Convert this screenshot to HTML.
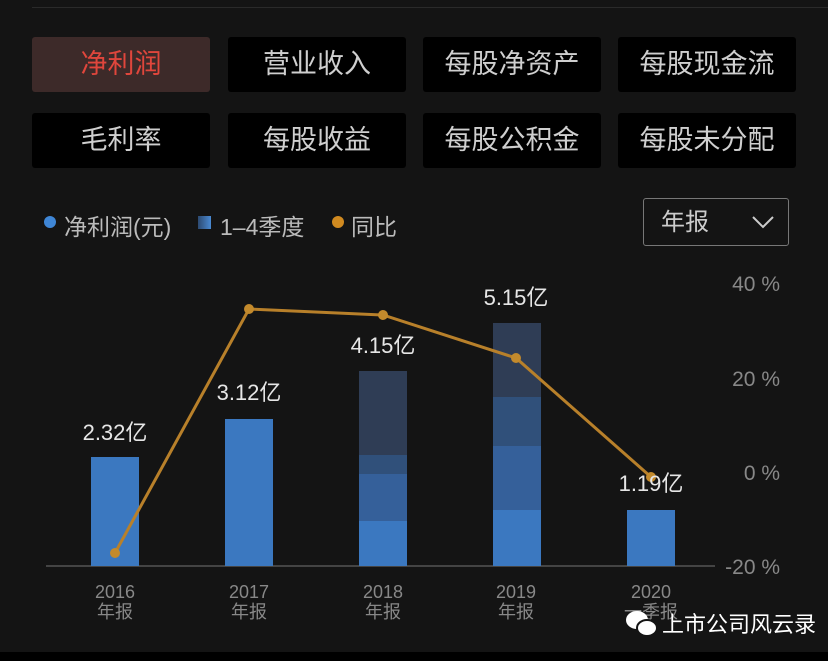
<!DOCTYPE html><html><head><meta charset="utf-8"><style>
body{margin:0;width:828px;height:661px;background:#141414;overflow:hidden;font-family:"Liberation Sans","Noto Sans CJK SC",sans-serif;position:relative}
.b{position:absolute;width:178px;height:55px;background:#000;color:#cfcfcf;font-size:27px;text-align:center;line-height:55px;border-radius:3px}
.a{background:#3d2a29;color:#e0463c}
.t{position:absolute;color:#e6e6e6;font-size:22px}
</style></head><body>
<div style="position:absolute;left:32px;top:7px;width:796px;height:1px;background:#2a2a2a"></div>
<div class="b a" style="left:32px;top:37px">净利润</div>
<div class="b" style="left:228px;top:37px">营业收入</div>
<div class="b" style="left:423px;top:37px">每股净资产</div>
<div class="b" style="left:618px;top:37px">每股现金流</div>
<div class="b" style="left:32px;top:113px">毛利率</div>
<div class="b" style="left:228px;top:113px">每股收益</div>
<div class="b" style="left:423px;top:113px">每股公积金</div>
<div class="b" style="left:618px;top:113px">每股未分配</div>
<div style="position:absolute;left:44px;top:216px;width:12px;height:12px;border-radius:50%;background:#3f86d6"></div>
<div class="t" style="left:64px;top:208px;color:#bbb;font-size:23px">净利润(元)</div>
<div style="position:absolute;left:198px;top:216px;width:13px;height:13px;background:linear-gradient(90deg,#2d4a70,#4a8ad4)"></div>
<div class="t" style="left:220px;top:208px;color:#bbb;font-size:23px">1–4季度</div>
<div style="position:absolute;left:332px;top:216px;width:12px;height:12px;border-radius:50%;background:#d08a20"></div>
<div class="t" style="left:351px;top:208px;color:#bbb;font-size:23px">同比</div>
<div style="position:absolute;left:643px;top:198px;width:146px;height:48px;border:1px solid #777;border-radius:3px;color:#ccc;font-size:24px;line-height:48px;box-sizing:border-box;padding-left:17px">年报</div>
<svg style="position:absolute;left:0;top:0" width="828" height="661">
<polyline points="753,217 763,227 773,217" fill="none" stroke="#ccc" stroke-width="2"/>
<line x1="46" y1="566" x2="715" y2="566" stroke="#555" stroke-width="1.5"/>
<g fill="#3b78c0">
<rect x="91" y="457" width="48" height="109"/>
<rect x="225" y="419" width="48" height="147"/>
<rect x="627" y="510" width="48" height="56"/>
</g>
<rect x="359" y="371" width="48" height="84" fill="#2f3d55"/>
<rect x="359" y="455" width="48" height="19" fill="#30507a"/>
<rect x="359" y="474" width="48" height="47" fill="#35609a"/>
<rect x="359" y="521" width="48" height="45" fill="#3b78c0"/>
<rect x="493" y="323" width="48" height="74" fill="#2f3d55"/>
<rect x="493" y="397" width="48" height="49" fill="#30507a"/>
<rect x="493" y="446" width="48" height="64" fill="#35609a"/>
<rect x="493" y="510" width="48" height="56" fill="#3b78c0"/>
<polyline points="115,553 249,309 383,315 516,358 651,477" fill="none" stroke="#b8802a" stroke-width="3"/>
<g fill="#c38a2c"><circle cx="115" cy="553" r="5"/><circle cx="249" cy="309" r="5"/><circle cx="383" cy="315" r="5"/><circle cx="516" cy="358" r="5"/><circle cx="651" cy="477" r="5"/></g>
<g fill="#e6e6e6" font-size="22" text-anchor="middle" font-family="Liberation Sans,Noto Sans CJK SC,sans-serif">
<text x="115" y="440">2.32亿</text><text x="249" y="400">3.12亿</text><text x="383" y="353">4.15亿</text><text x="516" y="305">5.15亿</text><text x="651" y="491">1.19亿</text>
</g>
<g fill="#888" font-size="21" text-anchor="end" font-family="Liberation Sans,sans-serif">
<text x="780" y="291">40 %</text><text x="780" y="386">20 %</text><text x="780" y="480">0 %</text><text x="780" y="574">-20 %</text>
</g>
<g fill="#888" font-size="18" text-anchor="middle" font-family="Liberation Sans,Noto Sans CJK SC,sans-serif">
<text x="115" y="598">2016</text><text x="115" y="618">年报</text>
<text x="249" y="598">2017</text><text x="249" y="618">年报</text>
<text x="383" y="598">2018</text><text x="383" y="618">年报</text>
<text x="516" y="598">2019</text><text x="516" y="618">年报</text>
<text x="651" y="598">2020</text><text x="651" y="618">一季报</text>
</g>
<rect x="0" y="652" width="828" height="9" fill="#000"/>
<ellipse cx="637" cy="620" rx="11" ry="9" fill="#fff"/>
<ellipse cx="647" cy="628" rx="10" ry="8" fill="#fff" stroke="#141414" stroke-width="2"/>
<text x="662" y="632" fill="#fff" font-size="22" font-family="Liberation Sans,Noto Sans CJK SC,sans-serif">上市公司风云录</text>
</svg>
</body></html>
